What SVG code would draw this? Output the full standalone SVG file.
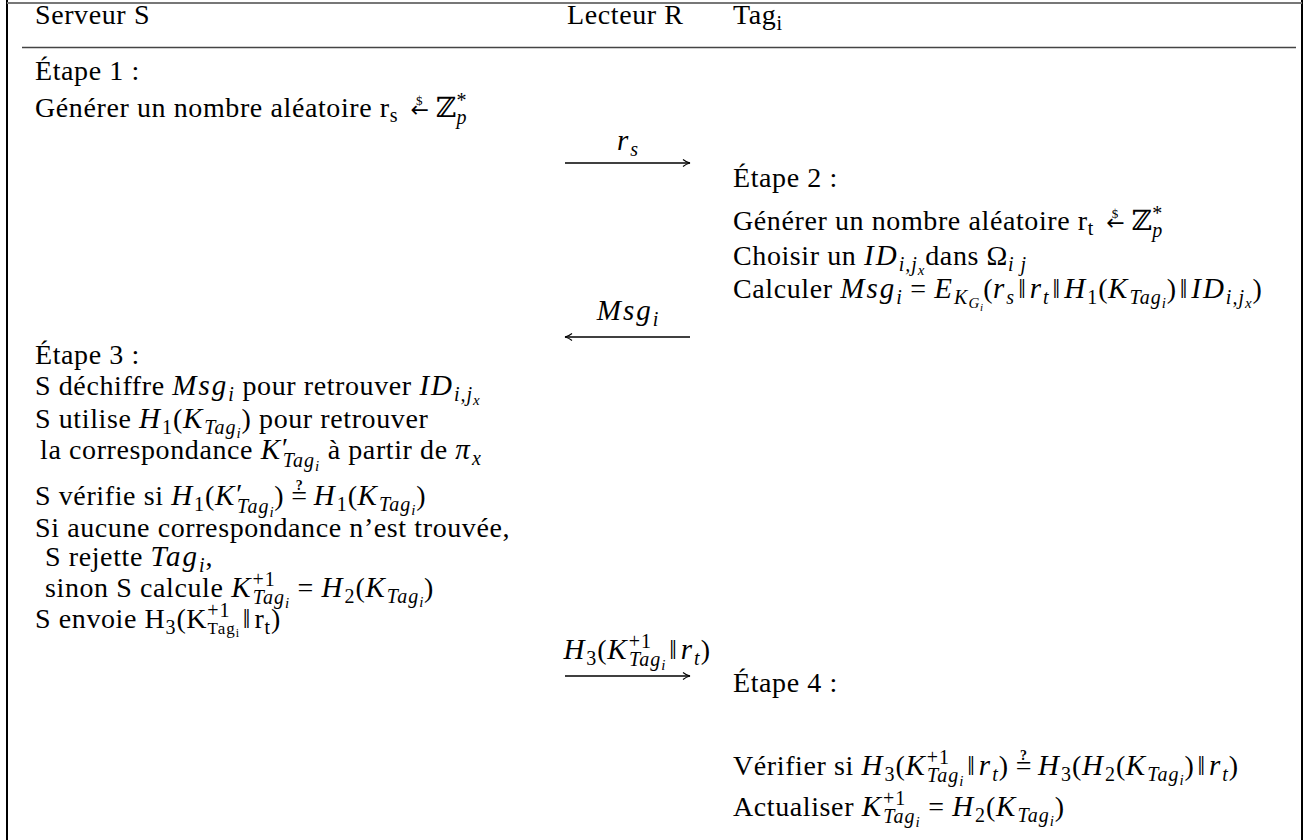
<svg xmlns="http://www.w3.org/2000/svg" width="1309" height="840" viewBox="0 0 1309 840">
<defs>
<style>
text{font-family:"Liberation Serif","DejaVu Serif","DejaVu Sans",serif;font-size:28px;letter-spacing:0.6px;fill:#000}
.i{font-style:italic;font-size:29px;letter-spacing:2px}
.s1{font-size:20px;letter-spacing:1px}
.s2{font-size:15px;letter-spacing:0.8px}
.s3{font-size:11px;letter-spacing:0}
.arr{font-family:"DejaVu Sans",sans-serif;font-size:22px;letter-spacing:0}
.par{font-family:"Liberation Serif","DejaVu Serif",serif;font-size:27px;letter-spacing:4px}
.dol{font-size:13px;letter-spacing:0}
.q{font-size:14px;font-weight:bold;letter-spacing:0}
.frame{stroke:#000;stroke-width:2;fill:none}
.conn{stroke:#000;stroke-width:1.3;fill:none}
</style>
<marker id="ah" markerWidth="10" markerHeight="10" refX="8" refY="4" orient="auto" markerUnits="userSpaceOnUse">
<path d="M1,0.5 Q4,3 8,4 Q4,5 1,7.5" fill="none" stroke="#000" stroke-width="1.1"/>
</marker>
</defs>
<rect width="1309" height="840" fill="#fff"/>
<g id="frame">
<line class="frame" x1="7" y1="0" x2="7" y2="840"/>
<line class="frame" x1="1302" y1="0" x2="1302" y2="840"/>
<line x1="7" y1="3" x2="1302" y2="3" stroke="#777" stroke-width="2"/>
<line x1="22" y1="47.5" x2="1296" y2="47.5" stroke="#444" stroke-width="1.5"/>
</g>
<g id="header">
<text x="35" y="24">Serveur S</text>
<text x="567" y="24">Lecteur R</text>
<text x="733" y="24">Tag<tspan class="s1" dy="6">i</tspan></text>
</g>
<g id="step1">
<text x="35" y="80">Étape 1 :</text>
<text x="35" y="117">Générer un nombre aléatoire r<tspan class="s1" dy="5">s</tspan><tspan class="arr" dx="12" dy="-5">←</tspan><tspan class="dol" dx="-13" dy="-12">$</tspan><tspan dx="13" dy="12">ℤ</tspan><tspan class="s1" dy="-10">*</tspan><tspan class="s1 i" dx="-11" dy="17">p</tspan></text>
</g>
<g id="step2">
<text x="733" y="187">Étape 2 :</text>
<text x="733" y="230">Générer un nombre aléatoire r<tspan class="s1" dy="5">t</tspan><tspan class="arr" dx="12" dy="-5">←</tspan><tspan class="dol" dx="-13" dy="-12">$</tspan><tspan dx="13" dy="12">ℤ</tspan><tspan class="s1" dy="-10">*</tspan><tspan class="s1 i" dx="-11" dy="17">p</tspan></text>
<text x="733" y="265">Choisir un <tspan class="i">ID</tspan><tspan class="s1 i" dy="6">i,j</tspan><tspan class="s2 i" dy="4">x</tspan><tspan dy="-10">dans Ω</tspan><tspan class="s1 i" dy="6">i j</tspan></text>
<text x="733" y="298">Calculer <tspan class="i">Msg</tspan><tspan class="s1 i" dy="6">i</tspan><tspan dy="-6"> = </tspan><tspan class="i">E</tspan><tspan class="s1 i" dy="6">K</tspan><tspan class="s2 i" dy="4">G</tspan><tspan class="s3 i" dy="3">i</tspan><tspan dy="-13">(</tspan><tspan class="i">r</tspan><tspan class="s1 i" dy="6">s</tspan><tspan class="par" dx="3" dy="-6">‖</tspan><tspan class="i">r</tspan><tspan class="s1 i" dy="6">t</tspan><tspan class="par" dx="3" dy="-6">‖</tspan><tspan class="i">H</tspan><tspan class="s1" dy="6">1</tspan><tspan dy="-6">(</tspan><tspan class="i">K</tspan><tspan class="s1 i" dy="6">Tag</tspan><tspan class="s2 i" dy="4">i</tspan><tspan dy="-10">)</tspan><tspan class="par" dx="3">‖</tspan><tspan class="i">ID</tspan><tspan class="s1 i" dy="6">i,j</tspan><tspan class="s2 i" dy="4">x</tspan><tspan dy="-10">)</tspan></text>
</g>
<g id="step3">
<text x="35" y="364">Étape 3 :</text>
<text x="35" y="395">S déchiffre <tspan class="i">Msg</tspan><tspan class="s1 i" dy="6">i</tspan><tspan dy="-6"> pour retrouver </tspan><tspan class="i">ID</tspan><tspan class="s1 i" dy="6">i,j</tspan><tspan class="s2 i" dy="4">x</tspan></text>
<text x="35" y="428">S utilise <tspan class="i">H</tspan><tspan class="s1" dy="6">1</tspan><tspan dy="-6">(</tspan><tspan class="i">K</tspan><tspan class="s1 i" dy="6">Tag</tspan><tspan class="s2 i" dy="4">i</tspan><tspan dy="-10">) pour retrouver</tspan></text>
<text x="40" y="459">la correspondance <tspan class="i">K</tspan><tspan dy="-2">′</tspan><tspan class="s1 i" dx="-6" dy="10">Tag</tspan><tspan class="s2 i" dy="4">i</tspan><tspan dy="-12"> à partir de </tspan><tspan class="i">π</tspan><tspan class="s1 i" dy="6">x</tspan></text>
<text x="35" y="505">S vérifie si <tspan class="i">H</tspan><tspan class="s1" dy="6">1</tspan><tspan dy="-6">(</tspan><tspan class="i">K</tspan><tspan dy="-2">′</tspan><tspan class="s1 i" dx="-6" dy="10">Tag</tspan><tspan class="s2 i" dy="4">i</tspan><tspan dy="-12">)</tspan><tspan dx="7">=</tspan><tspan class="q" dx="-12" dy="-15">?</tspan><tspan dx="11" dy="15" class="i">H</tspan><tspan class="s1" dy="6">1</tspan><tspan dy="-6">(</tspan><tspan class="i">K</tspan><tspan class="s1 i" dy="6">Tag</tspan><tspan class="s2 i" dy="4">i</tspan><tspan dy="-10">)</tspan></text>
<text x="35" y="537">Si aucune correspondance n’est trouvée,</text>
<text x="45" y="566">S rejette <tspan class="i">Tag</tspan><tspan class="s1 i" dy="6">i</tspan><tspan dy="-6">,</tspan></text>
<text x="45" y="597">sinon S calcule <tspan class="i">K</tspan><tspan class="s1" dy="-11">+1</tspan><tspan class="s1 i" dx="-23" dy="18">Tag</tspan><tspan class="s2 i" dy="4">i</tspan><tspan dy="-11"> = </tspan><tspan class="i">H</tspan><tspan class="s1" dy="6">2</tspan><tspan dy="-6">(</tspan><tspan class="i">K</tspan><tspan class="s1 i" dy="6">Tag</tspan><tspan class="s2 i" dy="4">i</tspan><tspan dy="-10">)</tspan></text>
<text x="35" y="628">S envoie H<tspan class="s1" dy="6">3</tspan><tspan dy="-6">(K</tspan><tspan class="s1" dy="-11">+1</tspan><tspan class="s1" style="font-size:17px" dx="-23" dy="17">Tag</tspan><tspan class="s2" style="font-size:12px" dy="3">i</tspan><tspan class="par" dx="3" dy="-9">‖</tspan><tspan>r</tspan><tspan class="s1" dy="6">t</tspan><tspan dy="-6">)</tspan></text>
</g>
<g id="step4">
<text x="733" y="692">Étape 4 :</text>
<text x="733" y="775">Vérifier si <tspan class="i">H</tspan><tspan class="s1" dy="6">3</tspan><tspan dy="-6">(</tspan><tspan class="i">K</tspan><tspan class="s1" dy="-11">+1</tspan><tspan class="s1 i" dx="-23" dy="18">Tag</tspan><tspan class="s2 i" dy="4">i</tspan><tspan class="par" dx="3" dy="-11">‖</tspan><tspan class="i">r</tspan><tspan class="s1 i" dy="6">t</tspan><tspan dy="-6">)</tspan><tspan dx="7">=</tspan><tspan class="q" dx="-12" dy="-15">?</tspan><tspan dx="11" dy="15" class="i">H</tspan><tspan class="s1" dy="6">3</tspan><tspan dy="-6">(</tspan><tspan class="i">H</tspan><tspan class="s1" dy="6">2</tspan><tspan dy="-6">(</tspan><tspan class="i">K</tspan><tspan class="s1 i" dy="6">Tag</tspan><tspan class="s2 i" dy="4">i</tspan><tspan dy="-10">)</tspan><tspan class="par" dx="3">‖</tspan><tspan class="i">r</tspan><tspan class="s1 i" dy="6">t</tspan><tspan dy="-6">)</tspan></text>
<text x="733" y="816">Actualiser <tspan class="i">K</tspan><tspan class="s1" dy="-11">+1</tspan><tspan class="s1 i" dx="-23" dy="18">Tag</tspan><tspan class="s2 i" dy="4">i</tspan><tspan dy="-11"> = </tspan><tspan class="i">H</tspan><tspan class="s1" dy="6">2</tspan><tspan dy="-6">(</tspan><tspan class="i">K</tspan><tspan class="s1 i" dy="6">Tag</tspan><tspan class="s2 i" dy="4">i</tspan><tspan dy="-10">)</tspan></text>
</g>
<g id="connectors">
<line class="conn" x1="565" y1="163" x2="690" y2="163" marker-end="url(#ah)"/>
<text x="628" y="150" text-anchor="middle"><tspan class="i">r</tspan><tspan class="s1 i" dy="6">s</tspan></text>
<line class="conn" x1="690" y1="337" x2="565" y2="337" marker-end="url(#ah)"/>
<text x="628" y="320" text-anchor="middle"><tspan class="i">Msg</tspan><tspan class="s1 i" dy="6">i</tspan></text>
<line class="conn" x1="565" y1="676" x2="690" y2="676" marker-end="url(#ah)"/>
<text x="637" y="659" text-anchor="middle"><tspan class="i">H</tspan><tspan class="s1" dy="6">3</tspan><tspan dy="-6">(</tspan><tspan class="i">K</tspan><tspan class="s1" dy="-11">+1</tspan><tspan class="s1 i" dx="-23" dy="18">Tag</tspan><tspan class="s2 i" dy="4">i</tspan><tspan class="par" dx="3" dy="-11">‖</tspan><tspan class="i">r</tspan><tspan class="s1 i" dy="6">t</tspan><tspan dy="-6">)</tspan></text>
</g>
</svg>
